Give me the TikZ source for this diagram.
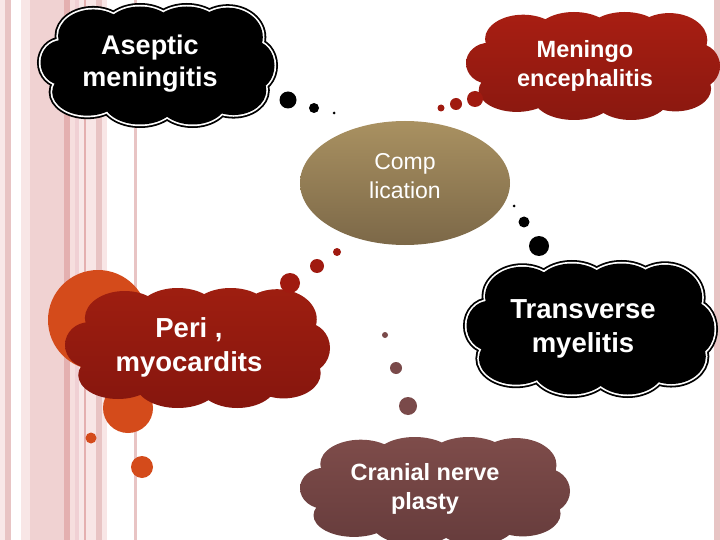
\documentclass[tikz,border=0pt]{standalone}
\usepackage{fontspec}
\setmainfont{Liberation Sans}
\usetikzlibrary{shapes.geometric}
\definecolor{stA}{HTML}{F8E8E8}
\definecolor{stB}{HTML}{E8C4C4}
\definecolor{stC}{HTML}{F8E6E6}
\definecolor{stD}{HTML}{F0D2D2}
\definecolor{stE}{HTML}{E4B0B0}
\definecolor{stF}{HTML}{F6DEDE}
\definecolor{stG}{HTML}{F0D0D4}
\definecolor{orng}{HTML}{D44B1B}
\definecolor{redT}{HTML}{A81E12}
\definecolor{redB}{HTML}{8A1810}
\definecolor{periT}{HTML}{9E1E10}
\definecolor{periB}{HTML}{86160E}
\definecolor{cranT}{HTML}{7E4C4A}
\definecolor{cranB}{HTML}{663C3C}
\definecolor{compT}{HTML}{A99161}
\definecolor{compB}{HTML}{7C6848}
\definecolor{cranDot}{HTML}{7A4A4A}
\definecolor{redDot}{HTML}{A01A10}
\tikzset{
  lobes/.style={insert path={
    (-0.55,-0.5) ellipse [x radius=0.3, y radius=0.45]
    (-0.15,-0.6) ellipse [x radius=0.3, y radius=0.4]
    (0.25,-0.6) ellipse [x radius=0.3, y radius=0.4]
    (0.6,-0.48) ellipse [x radius=0.3, y radius=0.5]
    (-0.82,-0.05) ellipse [x radius=0.18, y radius=0.38]
    (0.82,0) ellipse [x radius=0.18, y radius=0.42]
    (-0.6,0.45) ellipse [x radius=0.3, y radius=0.4]
    (-0.15,0.58) ellipse [x radius=0.32, y radius=0.42]
    (0.3,0.58) ellipse [x radius=0.3, y radius=0.42]
    (0.65,0.42) ellipse [x radius=0.28, y radius=0.42]
    (0,0) ellipse [x radius=0.72, y radius=0.5]}},
  ctxt/.style={text=white, align=center, inner sep=0pt},
  bigtxt/.style={ctxt, font=\fontsize{27.5}{34}\selectfont\bfseries},
  asetxt/.style={ctxt, font=\fontsize{27}{32}\selectfont\bfseries},
  midtxt/.style={ctxt, font=\fontsize{23.5}{29}\selectfont\bfseries},
}
\newcommand\blackcloud[4]{\begin{scope}[shift={(#1,#2)},xscale=#3,yscale=#4]
  \path[lobes, draw=black, line width=7pt];
  \path[lobes, draw=white, line width=3.4pt];
  \path[lobes, fill=black];
\end{scope}}
\newcommand\shadecloud[6]{\begin{scope}[shift={(#1,#2)},xscale=#3,yscale=#4]
  \path[lobes, top color=#5, bottom color=#6];
\end{scope}}
\begin{document}
\begin{tikzpicture}[x=1pt,y=-1pt]
\useasboundingbox (0,0) rectangle (720,540);
\fill[white] (0,0) rectangle (720,540);
% left stripes
\fill[stA] (0,0) rectangle (5,540);
\fill[stB] (5,0) rectangle (11,540);
\fill[stC] (21,0) rectangle (30,540);
\fill[stD] (30,0) rectangle (64,540);
\fill[stE] (64,0) rectangle (70,540);
\fill[stF] (70,0) rectangle (75,540);
\fill[stG] (75,0) rectangle (79,540);
\fill[stA] (79,0) rectangle (84,540);
\fill[stE] (84,0) rectangle (85.5,540);
\fill[stC] (85.5,0) rectangle (96,540);
\fill[stB] (96,0) rectangle (102,540);
\fill[stC] (102,0) rectangle (107,540);
\fill[stB] (133.5,0) rectangle (137,540);
% right stripe
\fill[stB] (714,0) rectangle (720,540);
% orange circles
\fill[orng] (98,320) circle (50);
\fill[orng] (128,408) circle (25);
\fill[orng] (91,438) circle (5.5);
\fill[orng] (142,467) circle (11);
% central node
\node[ellipse, minimum width=210pt, minimum height=124pt, top color=compT, bottom color=compB,
  inner sep=0pt] (comp) at (405,183) {};
\node[ctxt, font=\fontsize{23}{29}\selectfont] (comptxt) at (405,176) {Comp\\lication};
% clouds
\blackcloud{157.5}{65.5}{117}{59}
\node[asetxt] (asep) at (150,64) {Aseptic\\meningitis};
\shadecloud{593}{66}{127}{54}{redT}{redB}
\node[midtxt] (menin) at (585,66) {Meningo\\encephalitis};
\shadecloud{197.5}{348}{132.5}{60}{periT}{periB}
\node[bigtxt] (peri) at (189,347) {Peri ,\\myocardits};
\blackcloud{590.5}{329}{124}{65.5}
\node[bigtxt] (trans) at (583,329) {Transverse\\myelitis};
\shadecloud{435}{491}{135}{54}{cranT}{cranB}
\node[midtxt] (cran) at (425,489) {Cranial nerve\\plasty};
% thought dots: aseptic
\fill[black] (288,100) circle (8.5);
\fill[black] (314,108) circle (5);
\fill[black] (334,113) circle (1.5);
% meningo
\fill[redDot] (475,99) circle (8);
\fill[redDot] (456,104) circle (6);
\fill[redDot] (441,108) circle (3.5);
% transverse
\fill[black] (514,206) circle (1.5);
\fill[black] (524,222) circle (5.5);
\fill[black] (539,246) circle (10);
% peri
\fill[redDot] (290,283) circle (10);
\fill[redDot] (317,266) circle (7);
\fill[redDot] (337,252) circle (4);
% cranial
\fill[cranDot] (385,335) circle (3);
\fill[cranDot] (396,368) circle (6);
\fill[cranDot] (408,406) circle (9);
\end{tikzpicture}
\end{document}
